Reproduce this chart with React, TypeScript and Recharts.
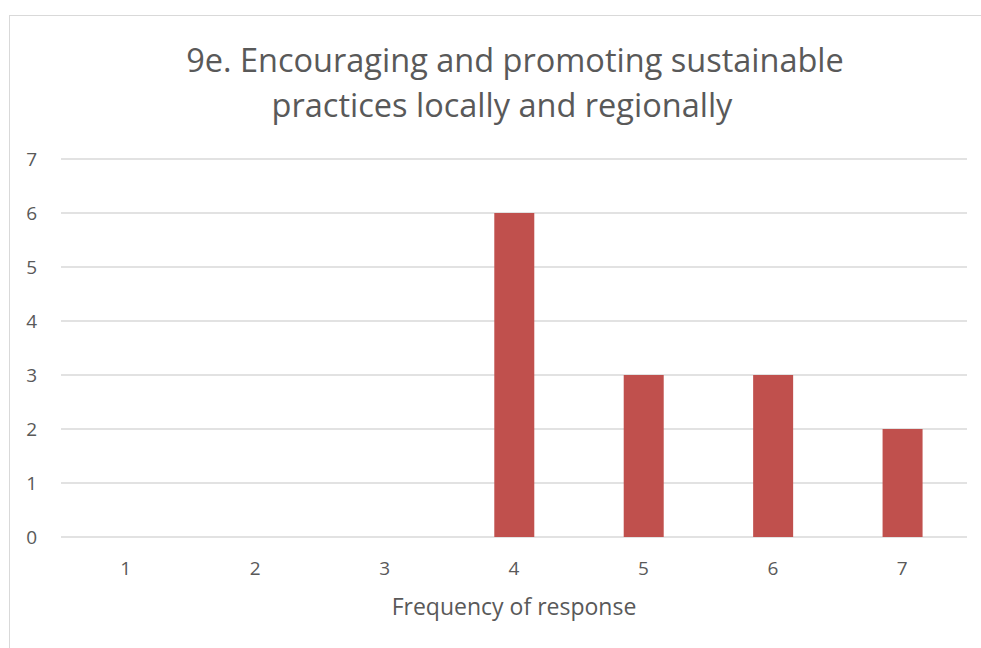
import React from "react";
import { BarChart, Bar, XAxis, YAxis, CartesianGrid } from "recharts";

const categories = ["1", "2", "3", "4", "5", "6", "7"];
const frequencies = [0, 0, 0, 6, 3, 3, 2];
const yTicks = [0, 1, 2, 3, 4, 5, 6, 7];
const titleLines = ["9e. Encouraging and promoting sustainable", "practices locally and regionally"];
const xTitle = "Frequency of response";

const data = categories.map((c, i) => ({ cat: c, value: frequencies[i] }));

const FONT = "'Open Sans', 'Liberation Sans', sans-serif";
const TEXT = "#595959";

export default function App() {
  return (
    <div style={{ position: "absolute", left: 0, top: 0, width: 981, height: 648, background: "#fff", overflow: "hidden", fontFamily: FONT }}>
      <div style={{ position: "absolute", left: 9, top: 15, width: 1100, height: 800, border: "1px solid #d9d9d9", boxSizing: "border-box" }} />
      <div style={{ position: "absolute", left: 0, top: 37, width: 1030, textAlign: "center", fontSize: 32.5, color: TEXT, lineHeight: "45px", whiteSpace: "nowrap" }}>
        {titleLines[0]}
      </div>
      <div style={{ position: "absolute", left: 0, top: 82, width: 1004, textAlign: "center", fontSize: 32.5, color: TEXT, lineHeight: "45px", whiteSpace: "nowrap" }}>
        {titleLines[1]}
      </div>
      <div style={{ position: "absolute", left: 0, top: 0 }}>
        <BarChart width={981} height={648} data={data} margin={{ top: 159, right: 14, bottom: 30, left: 0 }} barCategoryGap={0}>
          <CartesianGrid horizontal vertical={false} stroke="#d9d9d9" strokeWidth={1.5} />
          <XAxis
            dataKey="cat"
            axisLine={false}
            tickLine={false}
            tickSize={0}
            tickMargin={25}
            height={81}
            tick={{ fill: TEXT, fontSize: 19, fontFamily: FONT }}
            label={{ value: xTitle, position: "insideBottom", offset: 3, fill: TEXT, fontSize: 23, fontFamily: FONT }}
          />
          <YAxis
            domain={[0, 7]}
            ticks={yTicks}
            interval={0}
            axisLine={false}
            tickLine={false}
            tickSize={0}
            tickMargin={24}
            width={61}
            tick={{ fill: TEXT, fontSize: 19, fontFamily: FONT }}
          />
          <Bar dataKey="value" fill="#C0504D" barSize={40} isAnimationActive={false} />
        </BarChart>
      </div>
    </div>
  );
}
